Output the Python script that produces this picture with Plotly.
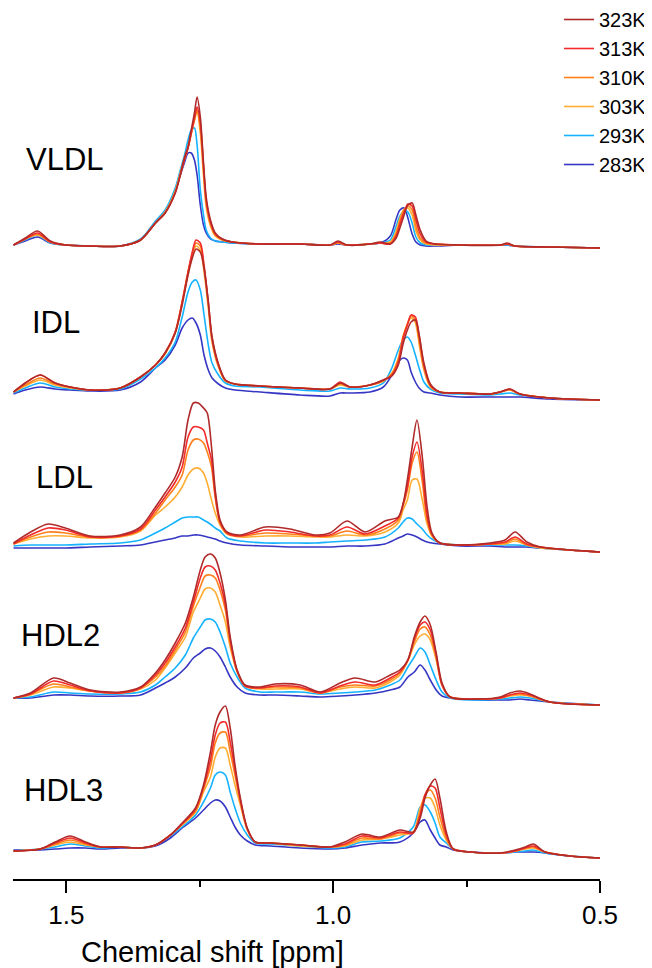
import plotly.graph_objects as go

# ---------------- data ----------------
TEMPS = ["323K", "313K", "310K", "303K", "293K", "283K"]
PANELS = ["VLDL", "IDL", "LDL", "HDL2", "HDL3"]

# chemical shift grids (ppm) for each lipoprotein panel
VLDL_PPM = [1.599, 1.577, 1.554, 1.530, 1.502, 1.455, 1.399, 1.361, 1.333, 1.315, 1.296, 1.287,
            1.279, 1.272, 1.266, 1.260, 1.255, 1.249, 1.243, 1.238, 1.230, 1.221, 1.208, 1.189,
            1.137, 1.062, 1.006, 0.991, 0.974, 0.931, 0.912, 0.893, 0.882, 0.875, 0.867, 0.860,
            0.852, 0.845, 0.837, 0.826, 0.809, 0.762, 0.687, 0.674, 0.659, 0.594, 0.500]
VLDL_323 = [3, 10, 17, 7, 3, 2, 2, 8, 25, 35, 55, 72, 90, 101, 118, 135, 151, 131, 85, 51, 28, 15, 9, 6,
            4, 4, 3, 7, 3, 4, 6, 4, 10, 20, 33, 43, 45, 33, 18, 7, 4, 3, 3, 5, 2, 1, 0]
VLDL_313 = [3, 9, 15, 6, 3, 2, 2, 8, 25, 35, 55, 72, 88, 100, 115, 130, 141, 125, 82, 48, 26, 14, 9, 6,
            4, 4, 3, 6, 3, 4, 5, 4, 12, 24, 36, 44, 42, 28, 14, 6, 4, 3, 3, 4, 2, 1, 0]
VLDL_310 = [3, 9, 14, 6, 3, 2, 2, 8, 25, 35, 56, 73, 88, 100, 114, 128, 138, 120, 78, 45, 24, 13, 8, 6,
            4, 4, 3, 5, 3, 4, 5, 5, 14, 27, 38, 42, 38, 22, 10, 5, 4, 3, 3, 4, 2, 1, 0]
VLDL_303 = [3, 9, 13, 6, 3, 2, 2, 8, 25, 36, 57, 74, 89, 101, 115, 128, 136, 115, 72, 41, 22, 12, 8, 6,
            4, 4, 3, 5, 3, 4, 5, 6, 17, 30, 39, 40, 33, 17, 8, 4, 3, 3, 3, 4, 2, 1, 0]
VLDL_293 = [3, 8, 13, 5, 3, 2, 2, 9, 27, 38, 60, 77, 92, 108, 118, 120, 103, 58, 33, 18, 10, 7, 6, 5,
            4, 4, 3, 5, 3, 4, 5, 8, 22, 32, 37, 36, 25, 11, 5, 3, 3, 3, 3, 3, 2, 1, 0]
VLDL_283 = [3, 7, 11, 5, 3, 2, 2, 8, 25, 36, 57, 72, 85, 95, 95, 88, 73, 43, 23, 15, 9, 7, 6, 5,
            4, 4, 3, 4, 3, 4, 5, 12, 29, 38, 40, 30, 14, 6, 3, 2, 2, 3, 3, 3, 2, 1, 0]

IDL_PPM = [1.599, 1.577, 1.549, 1.521, 1.493, 1.455, 1.399, 1.361, 1.333, 1.315, 1.296, 1.283,
           1.272, 1.264, 1.257, 1.249, 1.242, 1.234, 1.227, 1.215, 1.202, 1.184, 1.137, 1.062,
           1.006, 0.987, 0.968, 0.931, 0.906, 0.890, 0.878, 0.869, 0.861, 0.854, 0.846, 0.839,
           0.830, 0.818, 0.800, 0.762, 0.706, 0.687, 0.669, 0.650, 0.594, 0.500]
IDL_323 = [8, 17, 25, 17, 13, 10, 12, 23, 35, 47, 67, 95, 125, 142, 151, 148, 132, 98, 63, 36, 20, 16, 14,
           12, 11, 17, 13, 15, 20, 24, 35, 56, 70, 78, 80, 65, 37, 16, 8, 7, 6, 8, 11, 6, 2, 0]
IDL_313 = [8, 17, 25, 17, 13, 10, 12, 23, 35, 47, 68, 98, 128, 148, 160, 157, 135, 98, 62, 35, 20, 16, 14,
           12, 11, 18, 13, 15, 20, 25, 38, 62, 75, 85, 83, 65, 35, 15, 8, 7, 6, 8, 11, 6, 2, 0]
IDL_310 = [8, 15, 22, 16, 13, 10, 12, 23, 35, 47, 68, 98, 128, 146, 157, 154, 132, 95, 60, 34, 19, 16, 14,
           12, 11, 16, 13, 15, 19, 26, 40, 63, 76, 84, 80, 60, 32, 14, 8, 7, 6, 8, 10, 6, 2, 0]
IDL_303 = [8, 14, 20, 15, 12, 10, 12, 23, 35, 46, 67, 97, 126, 144, 154, 150, 128, 92, 58, 33, 19, 16, 14,
           12, 11, 15, 13, 15, 19, 27, 42, 64, 76, 82, 77, 56, 30, 13, 8, 7, 6, 8, 10, 6, 2, 0]
IDL_293 = [7, 12, 17, 13, 11, 10, 11, 21, 32, 42, 58, 83, 108, 118, 120, 110, 85, 55, 37, 25, 17, 14, 13,
           10, 9, 12, 11, 12, 17, 32, 50, 60, 63, 58, 45, 32, 18, 11, 7, 6, 5, 6, 7, 5, 2, 0]
IDL_283 = [6, 10, 13, 11, 10, 9, 10, 18, 32, 40, 55, 72, 80, 82, 77, 65, 45, 30, 22, 16, 12, 10, 8,
           5, 4, 7, 7, 8, 13, 25, 38, 42, 40, 28, 18, 12, 8, 7, 5, 3, 3, 3, 3, 3, 1, 0]

LDL_PPM = [1.599, 1.567, 1.534, 1.502, 1.455, 1.399, 1.361, 1.333, 1.315, 1.296, 1.283, 1.272,
           1.262, 1.253, 1.243, 1.236, 1.228, 1.221, 1.212, 1.199, 1.174, 1.127, 1.081, 1.034,
           1.006, 0.974, 0.940, 0.903, 0.878, 0.869, 0.861, 0.852, 0.843, 0.833, 0.824, 0.815,
           0.800, 0.762, 0.706, 0.678, 0.659, 0.637, 0.612, 0.556, 0.500]
LDL_323 = [9, 20, 28, 24, 16, 17, 25, 45, 59, 75, 95, 132, 149, 149, 144, 139, 105, 62, 32, 20, 17, 25,
           23, 17, 19, 31, 20, 31, 35, 48, 72, 105, 132, 95, 45, 19, 9, 7, 9, 12, 20, 10, 5, 2, 0]
LDL_313 = [8, 17, 24, 22, 15, 16, 23, 42, 55, 70, 85, 115, 125, 125, 122, 109, 92, 57, 30, 19, 16, 22,
           20, 16, 17, 25, 18, 26, 34, 48, 65, 95, 110, 80, 36, 18, 9, 7, 8, 10, 15, 8, 5, 2, 0]
LDL_310 = [8, 15, 20, 19, 15, 16, 22, 39, 52, 65, 77, 102, 112, 113, 109, 100, 85, 54, 29, 19, 16, 19,
           18, 16, 16, 21, 17, 23, 32, 46, 62, 89, 100, 70, 32, 17, 9, 7, 8, 9, 13, 7, 5, 2, 0]
LDL_303 = [8, 13, 16, 16, 14, 15, 21, 37, 45, 55, 65, 77, 83, 84, 79, 69, 52, 39, 27, 18, 15, 16,
           16, 15, 15, 17, 16, 20, 29, 42, 52, 72, 73, 52, 28, 16, 9, 7, 8, 8, 11, 7, 4, 2, 0]
LDL_293 = [6, 7, 7, 7, 8, 9, 12, 19, 24, 30, 34, 35, 35, 35, 32, 30, 27, 24, 21, 14, 11, 9,
           9, 9, 10, 11, 12, 15, 24, 30, 34, 33, 28, 23, 17, 13, 9, 7, 7, 7, 7, 6, 4, 2, 0]
LDL_283 = [4, 4, 4, 4, 5, 6, 7, 10, 12, 14, 16, 16, 17, 17, 16, 15, 14, 13, 11, 9, 7, 6,
           5, 5, 5, 6, 6, 8, 14, 16, 18, 17, 15, 12, 10, 9, 8, 6, 6, 5, 5, 5, 4, 2, 0]

HDL2_PPM = [1.599, 1.567, 1.524, 1.493, 1.455, 1.399, 1.361, 1.333, 1.315, 1.296, 1.277, 1.262,
            1.249, 1.240, 1.230, 1.221, 1.212, 1.202, 1.193, 1.180, 1.165, 1.137, 1.109, 1.062,
            1.024, 0.987, 0.959, 0.921, 0.893, 0.875, 0.860, 0.848, 0.837, 0.828, 0.818, 0.807,
            0.796, 0.781, 0.725, 0.687, 0.669, 0.650, 0.631, 0.594, 0.500]
HDL2_323 = [7, 12, 27, 22, 15, 13, 18, 32, 45, 62, 82, 108, 135, 148, 151, 147, 132, 105, 68, 35, 20, 18,
            21, 20, 13, 22, 27, 23, 30, 35, 45, 68, 83, 89, 80, 52, 22, 8, 6, 8, 12, 14, 11, 3, 0]
HDL2_313 = [7, 11, 24, 20, 14, 12, 17, 30, 42, 58, 77, 103, 127, 138, 139, 135, 122, 100, 65, 34, 19, 17,
            19, 18, 12, 19, 23, 20, 27, 33, 45, 66, 80, 83, 75, 50, 20, 8, 6, 7, 10, 12, 10, 3, 0]
HDL2_310 = [7, 11, 21, 18, 14, 12, 17, 28, 39, 55, 73, 99, 118, 129, 130, 127, 115, 95, 62, 34, 19, 17,
            18, 17, 12, 18, 20, 19, 25, 32, 45, 63, 76, 78, 70, 48, 20, 8, 6, 7, 10, 11, 9, 3, 0]
HDL2_303 = [7, 10, 18, 17, 14, 12, 16, 25, 37, 52, 68, 93, 107, 116, 117, 113, 100, 83, 58, 33, 19, 16,
            16, 16, 12, 16, 18, 17, 23, 30, 44, 60, 69, 71, 65, 45, 20, 8, 6, 7, 9, 10, 9, 3, 0]
HDL2_293 = [7, 8, 13, 12, 11, 11, 13, 20, 28, 37, 50, 67, 78, 85, 86, 83, 73, 58, 42, 28, 17, 13,
            13, 13, 11, 12, 13, 15, 20, 25, 38, 48, 57, 53, 40, 25, 13, 7, 5, 6, 7, 8, 7, 3, 0]
HDL2_283 = [7, 7, 10, 10, 9, 9, 10, 17, 22, 28, 37, 47, 52, 56, 57, 54, 48, 38, 28, 18, 12, 10,
            10, 9, 8, 9, 10, 12, 15, 18, 28, 33, 40, 35, 25, 15, 9, 7, 5, 5, 5, 6, 5, 3, 0]

HDL3_PPM = [1.599, 1.549, 1.521, 1.493, 1.464, 1.436, 1.399, 1.361, 1.333, 1.305, 1.283, 1.258,
            1.243, 1.230, 1.221, 1.212, 1.202, 1.193, 1.184, 1.174, 1.161, 1.146, 1.118, 1.062,
            1.006, 0.978, 0.946, 0.912, 0.875, 0.850, 0.837, 0.828, 0.818, 0.809, 0.800, 0.788,
            0.775, 0.743, 0.687, 0.659, 0.640, 0.625, 0.603, 0.556, 0.500]
HDL3_323 = [7, 9, 16, 22, 16, 11, 11, 10, 13, 23, 35, 50, 73, 106, 133, 146, 152, 130, 93, 60, 30, 16,
            15, 13, 11, 16, 24, 21, 28, 26, 40, 60, 73, 79, 60, 26, 9, 6, 5, 8, 11, 14, 6, 2, 0]
HDL3_313 = [7, 9, 15, 20, 15, 11, 11, 10, 13, 23, 34, 49, 71, 98, 123, 135, 136, 116, 88, 58, 29, 16,
            15, 13, 11, 14, 22, 20, 26, 25, 43, 63, 72, 70, 50, 23, 9, 6, 5, 7, 10, 12, 6, 2, 0]
HDL3_310 = [7, 9, 14, 18, 14, 11, 11, 10, 13, 23, 34, 47, 69, 91, 115, 125, 126, 106, 83, 56, 29, 16,
            15, 13, 11, 13, 20, 19, 25, 25, 46, 63, 68, 60, 41, 20, 9, 6, 5, 7, 10, 11, 6, 2, 0]
HDL3_303 = [7, 9, 13, 16, 13, 11, 11, 10, 13, 23, 33, 46, 66, 81, 101, 110, 110, 93, 73, 53, 28, 16,
            15, 12, 11, 12, 18, 19, 23, 26, 50, 60, 60, 50, 33, 18, 9, 6, 5, 7, 9, 10, 6, 2, 0]
HDL3_293 = [7, 9, 11, 14, 12, 10, 11, 10, 13, 22, 31, 43, 56, 70, 83, 86, 83, 66, 50, 35, 23, 15,
            14, 12, 10, 11, 16, 17, 20, 31, 51, 53, 46, 35, 21, 15, 9, 6, 5, 6, 7, 8, 5, 2, 0]
HDL3_283 = [8, 8, 9, 10, 10, 9, 10, 10, 12, 20, 30, 40, 48, 55, 58, 57, 51, 41, 31, 23, 17, 13,
            12, 10, 9, 10, 13, 15, 16, 25, 36, 38, 28, 20, 13, 11, 8, 6, 5, 6, 6, 6, 5, 2, 0]

X_TICKS = [1.5, 1.0, 0.5]
X_TICK_TEXT = ["1.5", "1.0", "0.5"]

# ---------------- styling / layout constants ----------------
COLORS = ["#b02a2a", "#f22a2a", "#ff7f1a", "#ffae33", "#14b2ff", "#3636c4"]
FONT = "Liberation Sans, Arial, Helvetica, sans-serif"
PAGE_OFFSET = 8                     # the page body's default margin
W, H = 652 - PAGE_OFFSET, 968 - PAGE_OFFSET
AXIS_PX = 880 - PAGE_OFFSET         # row of the x-axis line
M_L, M_R, M_T = 5, 52, 0
M_B = H - AXIS_PX
PLOT_H = H - M_T - M_B
PLOT_W = W - M_L - M_R
ZERO_PX = [v - PAGE_OFFSET for v in (248, 400, 552, 705, 858)]   # zero level of each panel
Y_LO, Y_HI = -10, 165
LABEL_POS = [(1.580, 88), (1.568, 78), (1.560, 75), (1.588, 70), (1.584, 68)]
TITLE_PX = (79 - PAGE_OFFSET, 952 - PAGE_OFFSET)
LEGEND_TOP_PX = 0 - PAGE_OFFSET

panel_ppm = [VLDL_PPM, IDL_PPM, LDL_PPM, HDL2_PPM, HDL3_PPM]
panel_int = [
    [VLDL_323, VLDL_313, VLDL_310, VLDL_303, VLDL_293, VLDL_283],
    [IDL_323, IDL_313, IDL_310, IDL_303, IDL_293, IDL_283],
    [LDL_323, LDL_313, LDL_310, LDL_303, LDL_293, LDL_283],
    [HDL2_323, HDL2_313, HDL2_310, HDL2_303, HDL2_293, HDL2_283],
    [HDL3_323, HDL3_313, HDL3_310, HDL3_303, HDL3_293, HDL3_283],
]

fig = go.Figure()
layout_axes = {}
annotations = []
for p, name in enumerate(PANELS):
    yref = "y" if p == 0 else f"y{p + 1}"
    ykey = "yaxis" if p == 0 else f"yaxis{p + 1}"
    ppm = panel_ppm[p]
    for t in reversed(range(len(TEMPS))):
        vals = panel_int[p][t]
        assert len(vals) == len(ppm), (name, TEMPS[t], len(vals), len(ppm))
        fig.add_trace(go.Scatter(
            x=ppm, y=vals, xaxis="x", yaxis=yref, mode="lines",
            line=dict(color=COLORS[t], width=1.6, shape="spline", smoothing=0.8),
            name=TEMPS[t], legendgroup=TEMPS[t], showlegend=(p == 0),
            hovertemplate=f"{name} {TEMPS[t]}<br>%{{x:.3f}} ppm<br>%{{y}}<extra></extra>",
        ))
    z = ZERO_PX[p]
    d0 = (PLOT_H - (z - M_T - Y_LO)) / PLOT_H
    d1 = (PLOT_H - (z - M_T - Y_HI)) / PLOT_H
    layout_axes[ykey] = dict(domain=[d0, d1], range=[Y_LO, Y_HI], visible=False,
                             anchor="x", fixedrange=True)
    lx, ly = LABEL_POS[p]
    annotations.append(dict(text=name, x=lx, y=ly, xref="x", yref=yref, xanchor="left",
                            yanchor="middle", showarrow=False,
                            font=dict(family=FONT, size=31, color="black")))

annotations.append(dict(text="Chemical shift [ppm]", xref="paper", yref="paper",
                        x=(TITLE_PX[0] - M_L) / PLOT_W, y=(PLOT_H - TITLE_PX[1]) / PLOT_H,
                        xanchor="left", yanchor="middle", showarrow=False,
                        font=dict(family=FONT, size=29, color="black")))

fig.update_layout(
    width=W, height=H,
    margin=dict(l=M_L, r=M_R, t=M_T, b=M_B, autoexpand=False),
    paper_bgcolor="white", plot_bgcolor="rgba(0,0,0,0)",
    font=dict(family=FONT, color="black"),
    showlegend=True,
    legend=dict(traceorder="reversed", font=dict(family=FONT, size=20, color="black"),
                xref="container", yref="paper", x=1.0,
                y=(PLOT_H - (LEGEND_TOP_PX - M_T)) / PLOT_H,
                xanchor="right", yanchor="top", bgcolor="rgba(0,0,0,0)",
                borderwidth=0),
    xaxis=dict(range=[1.6, 0.5], anchor="free", position=0, showgrid=False, zeroline=False,
               showline=True, linecolor="black", linewidth=2,
               ticks="outside", ticklen=12, tickwidth=2, tickcolor="black",
               tickvals=X_TICKS, ticktext=X_TICK_TEXT,
               tickfont=dict(family=FONT, size=26, color="black"),
               minor=dict(ticks="outside", ticklen=6, tickwidth=2, tickcolor="black", dtick=0.25,
                          tick0=0.5, showgrid=False),
               automargin=False, fixedrange=True),
    annotations=annotations,
    **layout_axes,
)

fig.write_html("out.html")
